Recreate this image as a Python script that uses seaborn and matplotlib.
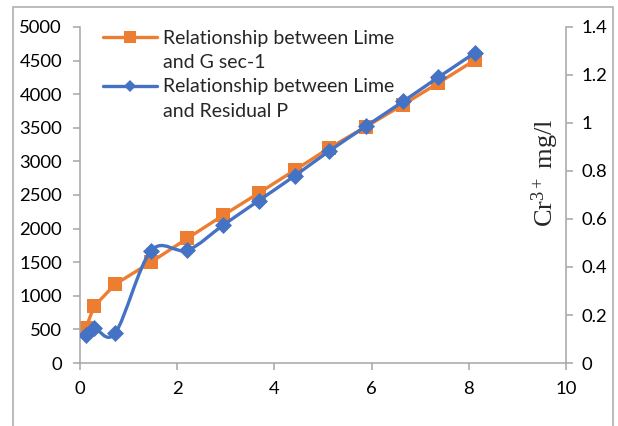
import matplotlib

matplotlib.use("Agg")
import matplotlib.pyplot as plt
import numpy as np
import seaborn as sns
from matplotlib.lines import Line2D
from matplotlib.patches import PathPatch, Rectangle
from matplotlib.path import Path

# lime dose (x) shared by both series
lime = [0.12, 0.29, 0.73, 1.46, 2.21, 2.95, 3.68, 4.42, 5.12, 5.88, 6.65, 7.37, 8.13]
g_sec = [520, 845, 1175, 1500, 1855, 2200, 2530, 2870, 3195, 3515, 3845, 4165, 4510]
residual_p = [0.118, 0.147, 0.126, 0.467, 0.470, 0.575, 0.677, 0.780, 0.882,
              0.986, 1.090, 1.190, 1.293]

left_ticks = [0, 500, 1000, 1500, 2000, 2500, 3000, 3500, 4000, 4500, 5000]
right_ticks = [0, 0.2, 0.4, 0.6, 0.8, 1.0, 1.2, 1.4]
right_labels = ["0", "0.2", "0.4", "0.6", "0.8", "1", "1.2", "1.4"]
x_ticks = [0, 2, 4, 6, 8, 10]

ORANGE = "#ED7D31"
BLUE = "#4472C4"
GREY = "#a6a6a6"

sns.set_theme(style="white")
plt.rcParams["font.family"] = ["Lato", "DejaVu Sans"]
plt.rcParams["mathtext.fontset"] = "custom"
plt.rcParams["mathtext.rm"] = "Liberation Serif"
plt.rcParams["mathtext.it"] = "Liberation Serif:italic"

W, H = 618, 426
fig = plt.figure(figsize=(W / 100, H / 100), dpi=100)
ax = fig.add_axes([80 / W, 1 - 363 / H, (566 - 80) / W, (363 - 27) / H])
ax2 = ax.twinx()

# orange series: straight segments on the left axis
sns.lineplot(x=lime, y=g_sec, ax=ax, color=ORANGE, lw=2.4, marker="s",
             markersize=10, markeredgewidth=0, zorder=2)


def smooth_path(xs, ys):
    """Catmull-Rom style Bezier through the points (like Excel's smoothed line)."""
    pts = np.column_stack([xs, ys])
    n = len(pts)
    verts = [pts[0]]
    codes = [Path.MOVETO]
    for i in range(n - 1):
        p0 = pts[max(i - 1, 0)]
        p1, p2 = pts[i], pts[i + 1]
        p3 = pts[min(i + 2, n - 1)]
        verts += [p1 + (p2 - p0) / 6, p2 - (p3 - p1) / 6, p2]
        codes += [Path.CURVE4] * 3
    return Path(verts, codes)


ax2.add_patch(PathPatch(smooth_path(lime, residual_p), fill=False,
                        edgecolor=BLUE, lw=2.4, zorder=3))
sns.scatterplot(x=lime, y=residual_p, ax=ax2, color=BLUE, marker="D", s=75,
                linewidth=0, zorder=4)

ax.set_xlim(0, 10)
ax.set_ylim(0, 5000)
ax2.set_ylim(0, 1.4)
ax.set_xticks(x_ticks)
ax.set_xticklabels([str(t) for t in x_ticks])
ax.set_yticks(left_ticks)
ax.set_yticklabels([str(t) for t in left_ticks])
ax2.set_yticks(right_ticks)
ax2.set_yticklabels(right_labels)

for a in (ax, ax2):
    for s in a.spines.values():
        s.set_visible(False)
        s.set_color(GREY)
        s.set_linewidth(1.1)
    a.tick_params(length=5, width=1.1, color=GREY, labelsize=13.3,
                  labelcolor="black", direction="out")
    a.grid(False)
ax.spines["left"].set_visible(True)
ax.spines["bottom"].set_visible(True)
ax2.spines["right"].set_visible(True)
ax.tick_params(axis="y", pad=8, left=True)
ax.tick_params(axis="x", pad=8, bottom=True)
ax2.tick_params(axis="y", pad=6, right=True)
ax.set_xlabel("")
ax.set_ylabel("")
ax2.set_ylabel("")

fig.text(545 / W, 1 - 173 / H, r"Cr$^{3+}$ mg/l", rotation=90, ha="center",
         va="center", fontsize=19, family="Liberation Serif")

handles = [
    Line2D([], [], color=ORANGE, lw=2.4, marker="s", markersize=8, markeredgewidth=0),
    Line2D([], [], color="none"),
    Line2D([], [], color=BLUE, lw=2.4, marker="D", markersize=6, markeredgewidth=0),
    Line2D([], [], color="none"),
]
labels = ["Relationship between Lime", "and G sec-1",
          "Relationship between Lime", "and Residual P"]
ax2.legend(handles, labels, loc="upper left", bbox_to_anchor=(103 / W, 1 - 30 / H),
           bbox_transform=fig.transFigure, frameon=False, fontsize=14,
           handlelength=2.8, handletextpad=0.3, labelspacing=0.37,
           borderpad=0, borderaxespad=0)

fig.patches.append(Rectangle((13 / W, -0.1), 600 / W, 1.1 - 7 / H,
                             transform=fig.transFigure, fill=False,
                             edgecolor="#b0b0b0", lw=1.2, figure=fig))

fig.savefig("out.png", dpi=100)
